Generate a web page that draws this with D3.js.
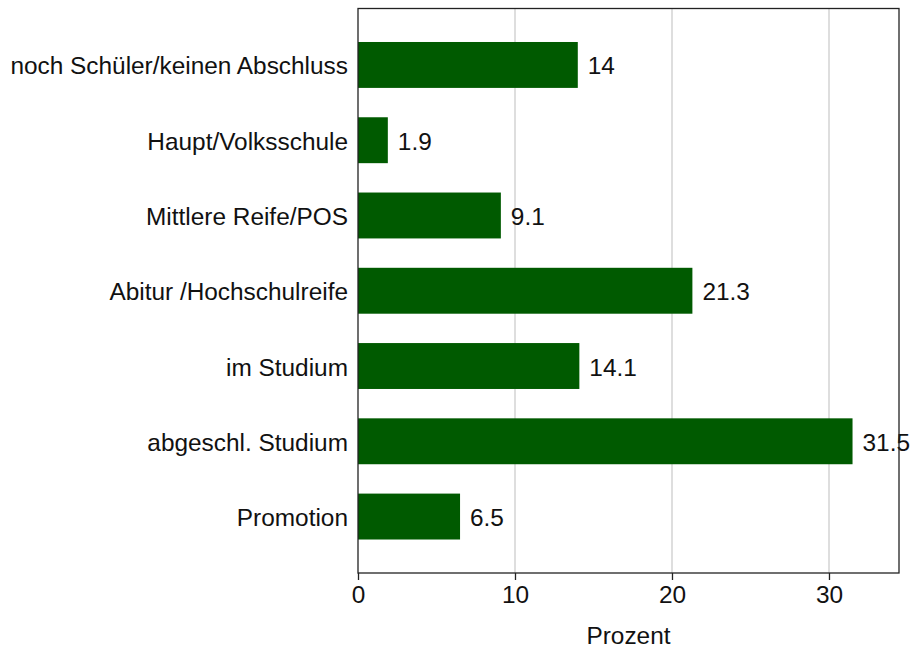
<!DOCTYPE html>
<html><head><meta charset="utf-8">
<script src="https://cdn.jsdelivr.net/npm/d3@7"></script>
<style>body{margin:0;background:#fff}svg{display:block}</style>
</head><body>
<script>
const categories = ["noch Schüler/keinen Abschluss","Haupt/Volksschule","Mittlere Reife/POS","Abitur /Hochschulreife","im Studium","abgeschl. Studium","Promotion"];
const values = [14, 1.9, 9.1, 21.3, 14.1, 31.5, 6.5];
const valueLabels = ["14","1.9","9.1","21.3","14.1","31.5","6.5"];
const xTicks = [0, 10, 20, 30];
const xTitle = "Prozent";

const W = 910, H = 650;
const FS = 24.4;
const m = {left: 358, right: 11, top: 8.5, bottom: 77};
const svg = d3.select("body").append("svg").attr("width", W).attr("height", H)
  .style("font-family", "'Liberation Sans', Arial, sans-serif");

const x = d3.scaleLinear().domain([0, 34.46]).range([m.left, W - m.right]);
const y = d3.scaleBand().domain(categories).range([m.top, H - m.bottom]).paddingInner(0.39).paddingOuter(0.445);

// grid
svg.append("g").selectAll("line").data(xTicks.filter(d => d > 0)).join("line")
  .attr("x1", d => x(d)).attr("x2", d => x(d)).attr("y1", m.top).attr("y2", H - m.bottom)
  .attr("stroke", "#dedede").attr("stroke-width", 2);

// bars
svg.append("g").selectAll("rect").data(values).join("rect")
  .attr("x", x(0)).attr("y", (d, i) => y(categories[i]))
  .attr("width", d => x(d) - x(0)).attr("height", y.bandwidth())
  .attr("fill", "#005a00");

// value labels
svg.append("g").selectAll("text").data(values).join("text")
  .attr("x", d => x(d) + 10).attr("y", (d, i) => y(categories[i]) + y.bandwidth() / 2 + 1)
  .attr("dy", "0.35em").attr("font-size", FS).attr("fill", "#111")
  .text((d, i) => valueLabels[i]);

// frame
svg.append("rect").attr("x", x(0)).attr("y", m.top).attr("width", x.range()[1] - x(0))
  .attr("height", H - m.bottom - m.top).attr("fill", "none").attr("stroke", "#222").attr("stroke-width", 1.3);

// y labels
svg.append("g").selectAll("text").data(categories).join("text")
  .attr("x", m.left - 10).attr("y", d => y(d) + y.bandwidth() / 2 + 1)
  .attr("dy", "0.35em").attr("text-anchor", "end").attr("font-size", FS).attr("fill", "#111")
  .text(d => d);

// x axis
const xa = svg.append("g").attr("transform", `translate(0,${H - m.bottom})`)
  .call(d3.axisBottom(x).tickValues(xTicks).tickSize(7).tickPadding(6));
xa.select(".domain").remove();
xa.selectAll("line").attr("stroke", "#222").attr("stroke-width", 1.3);
xa.selectAll("text").attr("font-size", FS).attr("fill", "#111").attr("font-family", "'Liberation Sans', Arial, sans-serif");

svg.append("text").attr("x", (x(0) + x.range()[1]) / 2).attr("y", 644)
  .attr("text-anchor", "middle").attr("font-size", FS).attr("fill", "#111").text(xTitle);
</script>
</body></html>
